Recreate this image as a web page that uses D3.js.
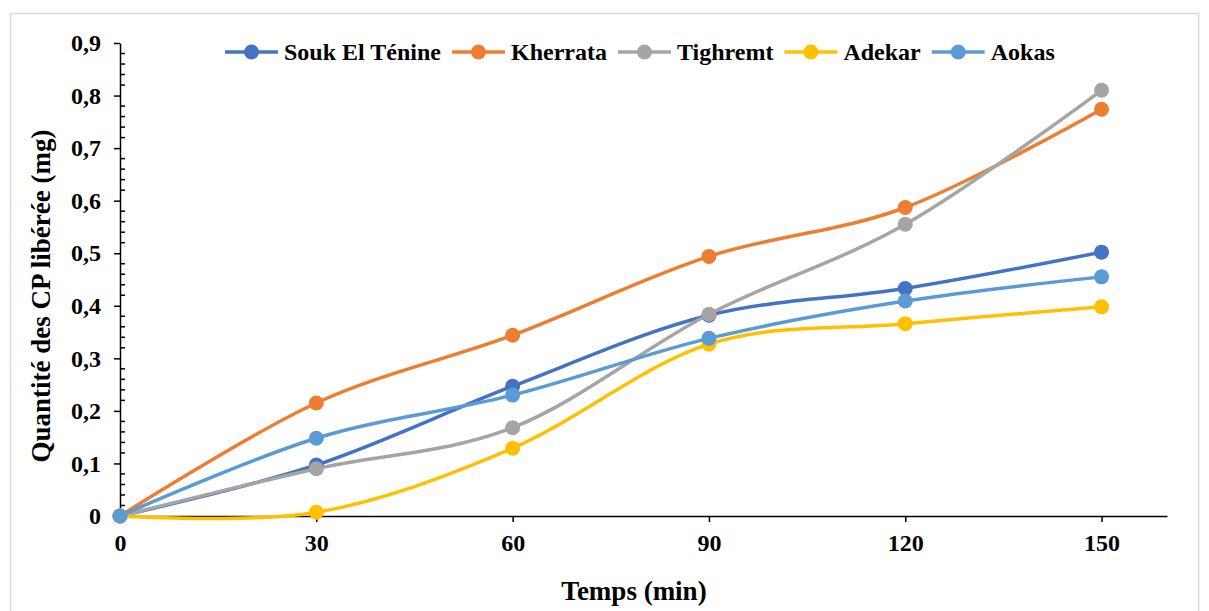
<!DOCTYPE html>
<html>
<head>
<meta charset="utf-8">
<script src="https://cdn.jsdelivr.net/npm/d3@7"></script>
<style>
  html, body { margin: 0; padding: 0; background: #fff; }
  svg { display: block; font-family: "Liberation Serif", "Times New Roman", serif; }
</style>
</head>
<body>
<svg id="chart" width="1209" height="611"></svg>
<script>
// Time points (min)
const times = [0, 30, 60, 90, 120, 150];

// Quantity of CP released (mg) per site
const soukElTenine = [0, 0.097, 0.247, 0.382, 0.433, 0.502];
const kherrata     = [0, 0.215, 0.344, 0.494, 0.587, 0.774];
const tighremt     = [0, 0.090, 0.168, 0.384, 0.555, 0.810];
const adekar       = [0, 0.007, 0.129, 0.327, 0.366, 0.398];
const aokas        = [0, 0.148, 0.230, 0.338, 0.409, 0.455];

const seriesNames  = ["Souk El Ténine", "Kherrata", "Tighremt", "Adekar", "Aokas"];
const seriesColors = ["#4472C4", "#ED7D31", "#A5A5A5", "#FFC000", "#5B9BD5"];
const seriesValues = [soukElTenine, kherrata, tighremt, adekar, aokas];

const xTicks = [0, 30, 60, 90, 120, 150];
const yTicks = [0, 0.1, 0.2, 0.3, 0.4, 0.5, 0.6, 0.7, 0.8, 0.9];

const FONT = "Liberation Serif, Times New Roman, serif";
const svg = d3.select("#chart");

// Outer frame
svg.append("rect")
  .attr("x", 10.5).attr("y", 13.5)
  .attr("width", 1188).attr("height", 620)
  .attr("fill", "none").attr("stroke", "#d9d9d9").attr("stroke-width", 1.5);

const plot = { left: 120, right: 1167, top: 43, bottom: 516 };

const x = d3.scaleLinear().domain([0, 160]).range([plot.left, plot.right]);
const y = d3.scaleLinear().domain([0, 0.9]).range([plot.bottom, plot.top]);

const fmt = v => v === 0 ? "0" : d3.format(".1f")(v).replace(".", ",");

// Y axis: major ticks outside, minor ticks inside
const yAxis = svg.append("g")
  .attr("transform", `translate(${plot.left},0)`)
  .call(d3.axisLeft(y).tickValues(yTicks).tickFormat(fmt).tickSizeInner(6).tickSizeOuter(0).tickPadding(13));
yAxis.select(".domain").attr("stroke", "#000").attr("stroke-width", 1.5);
yAxis.selectAll(".tick line").attr("stroke", "#000").attr("stroke-width", 1.5);
yAxis.selectAll(".tick text")
  .attr("fill", "#000").attr("font-size", 24).attr("font-weight", "bold")
  .attr("font-family", FONT);

const minorTicks = d3.range(0, 0.9001, 0.02).filter(v => Math.abs(Math.round(v * 10) - v * 10) > 1e-6);
svg.append("g").selectAll("line")
  .data(minorTicks)
  .join("line")
  .attr("x1", plot.left).attr("x2", plot.left + 5)
  .attr("y1", d => y(d)).attr("y2", d => y(d))
  .attr("stroke", "#000").attr("stroke-width", 1.5);

// X axis
const xAxis = svg.append("g")
  .attr("transform", `translate(0,${plot.bottom})`)
  .call(d3.axisBottom(x).tickValues(xTicks).tickFormat(d3.format("d")).tickSizeInner(6).tickSizeOuter(0).tickPadding(12));
xAxis.select(".domain").attr("stroke", "#000").attr("stroke-width", 1.5);
xAxis.selectAll(".tick line").attr("stroke", "#000").attr("stroke-width", 1.5);
xAxis.selectAll(".tick text")
  .attr("fill", "#000").attr("font-size", 24).attr("font-weight", "bold")
  .attr("font-family", FONT);

// Axis titles
svg.append("text")
  .attr("x", 634).attr("y", 600)
  .attr("text-anchor", "middle")
  .attr("font-size", 27).attr("font-weight", "bold")
  .text("Temps (min)");

svg.append("text")
  .attr("transform", "translate(50,296) rotate(-90)")
  .attr("text-anchor", "middle")
  .attr("font-size", 27).attr("font-weight", "bold")
  .text("Quantité des CP libérée (mg)");

// Smoothed series lines with markers
const line = d3.line()
  .x((d, i) => x(times[i]))
  .y(d => y(d))
  .curve(d3.curveCardinal.tension(0));

seriesValues.forEach((vals, s) => {
  svg.append("path")
    .datum(vals)
    .attr("d", line)
    .attr("fill", "none")
    .attr("stroke", seriesColors[s])
    .attr("stroke-width", 3.5)
    .attr("stroke-linecap", "round");
});
seriesValues.forEach((vals, s) => {
  svg.append("g").selectAll("circle")
    .data(vals)
    .join("circle")
    .attr("cx", (d, i) => x(times[i]))
    .attr("cy", d => y(d))
    .attr("r", 7.5)
    .attr("fill", seriesColors[s]);
});

// Legend
const legend = svg.append("g");
let lx = 225;
const ly = 52;
seriesNames.forEach((name, s) => {
  const g = legend.append("g");
  g.append("line")
    .attr("x1", lx).attr("x2", lx + 53)
    .attr("y1", ly).attr("y2", ly)
    .attr("stroke", seriesColors[s]).attr("stroke-width", 3.5);
  g.append("circle")
    .attr("cx", lx + 26.5).attr("cy", ly).attr("r", 7.5)
    .attr("fill", seriesColors[s]);
  const t = g.append("text")
    .attr("x", lx + 59).attr("y", ly + 8)
    .attr("font-size", 24).attr("font-weight", "bold")
    .attr("fill", "#000")
    .text(name);
  lx += 59 + t.node().getComputedTextLength() + 11;
});
</script>
</body>
</html>
